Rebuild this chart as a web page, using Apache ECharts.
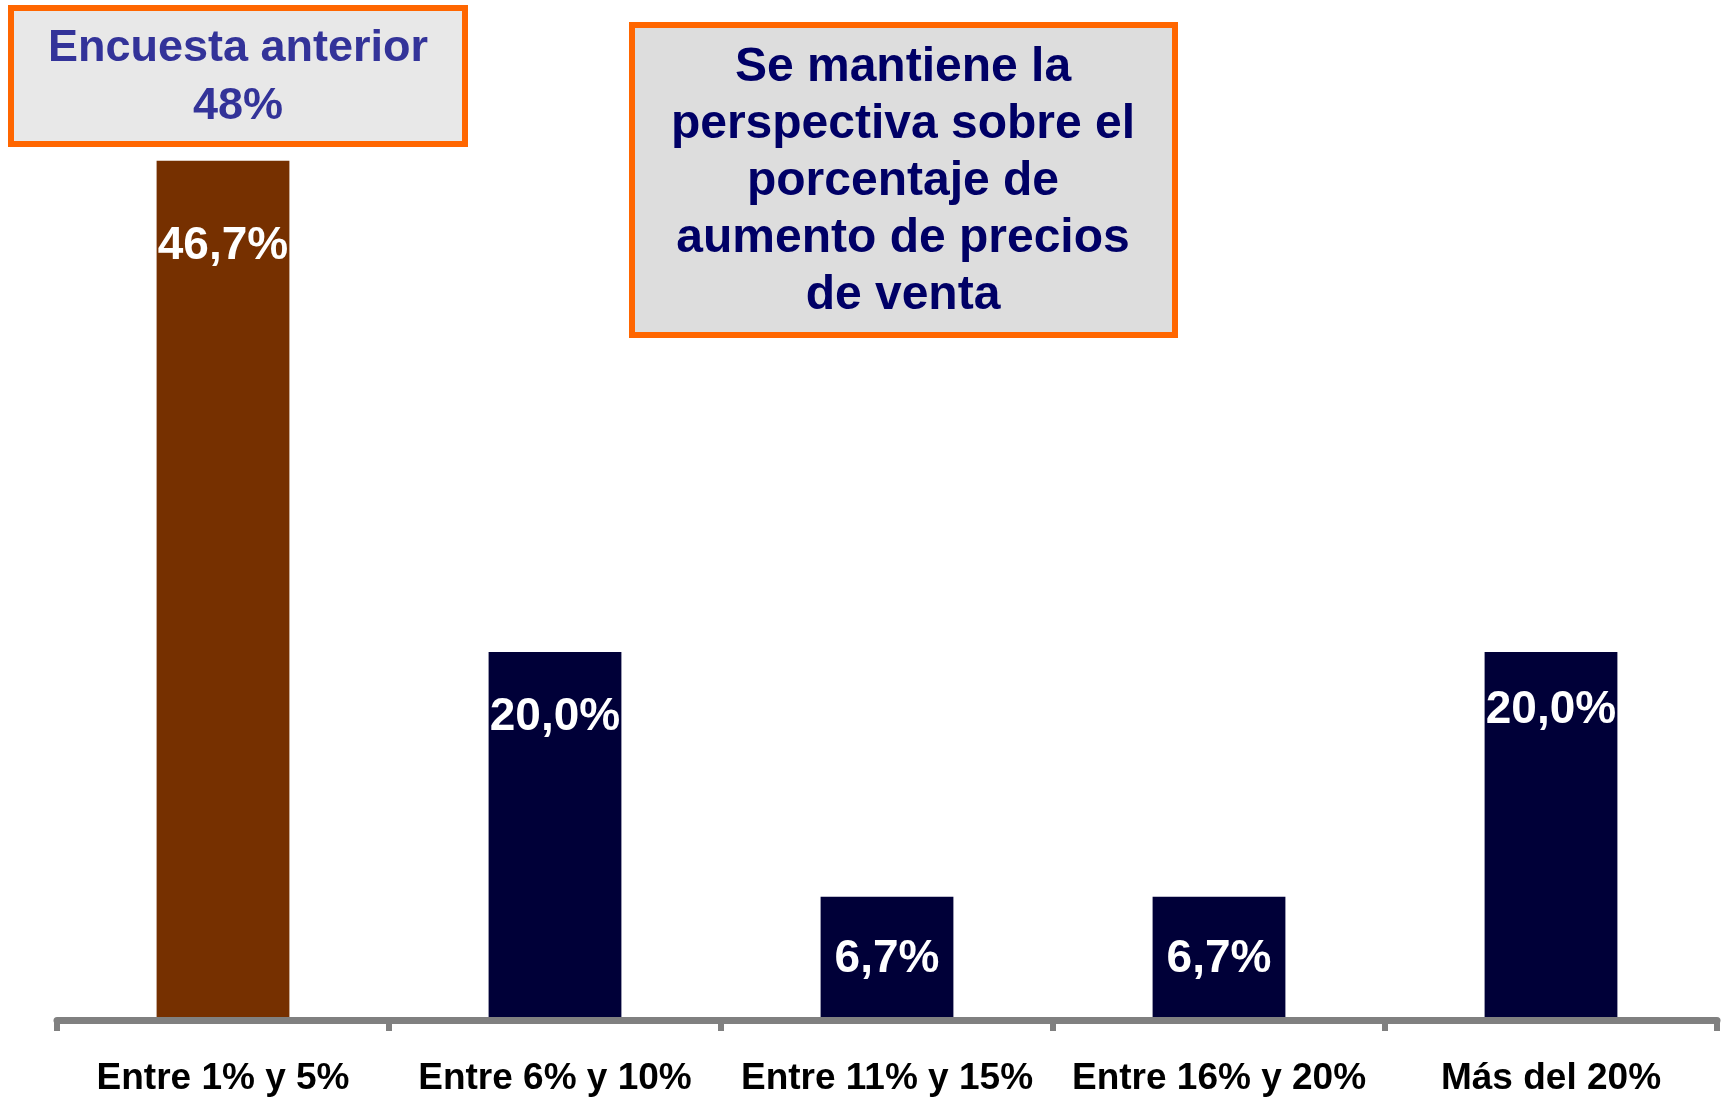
<!DOCTYPE html>
<html>
<head>
<meta charset="utf-8">
<script src="https://cdn.jsdelivr.net/npm/echarts@6/dist/echarts.min.js"></script>
<style>
html,body{margin:0;padding:0;background:#fff;}
#c{width:1721px;height:1097px;}
</style>
</head>
<body>
<div id="c"></div>
<script>
const categories = ['Entre 1% y 5%', 'Entre 6% y 10%', 'Entre 11% y 15%', 'Entre 16% y 20%', 'Más del 20%'];
const values = [46.7, 20.0, 6.7, 6.7, 20.0];
const valueLabels = ['46,7%', '20,0%', '6,7%', '6,7%', '20,0%'];
const barColors = ['#763000', '#000038', '#000038', '#000038', '#000038'];
const labelDistances = [63, 42, 40, 40, 35];
const previousTitle = 'Encuesta anterior';
const previousValue = '48%';
const noteLines = ['Se mantiene la', 'perspectiva sobre el', 'porcentaje de', 'aumento de precios', 'de venta'];

const chart = echarts.init(document.getElementById('c'));
const FONT = 'Liberation Sans, Arial, Helvetica, sans-serif';

const option = {
  backgroundColor: '#ffffff',
  animation: false,
  grid: { left: 57, right: 4, top: 100, bottom: 76 },
  xAxis: {
    type: 'category',
    data: categories,
    boundaryGap: true,
    z: 3,
    axisLine: { show: true, lineStyle: { color: '#808080', width: 7 } },
    axisTick: { show: true, length: 11, lineStyle: { color: '#808080', width: 6 } },
    axisLabel: {
      color: '#000000', fontFamily: FONT, fontWeight: 'bold', fontSize: 37,
      margin: 40, interval: 0
    }
  },
  yAxis: { type: 'value', min: 0, max: 50, show: false, splitLine: { show: false } },
  series: [{
    type: 'bar',
    barWidth: '40%',
    data: values.map((v, i) => ({
      value: v,
      itemStyle: { color: barColors[i] },
      label: { distance: labelDistances[i] }
    })),
    label: {
      show: true,
      position: 'insideTop',
      color: '#ffffff',
      fontFamily: FONT,
      fontWeight: 'bold',
      fontSize: 46,
      formatter: p => valueLabels[p.dataIndex]
    },
    z: 1
  }],
  graphic: [
    {
      type: 'rect', z: 10,
      shape: { x: 11, y: 8, width: 454, height: 136 },
      style: { fill: '#E8E8E8', stroke: '#FF6600', lineWidth: 6 }
    },
    {
      type: 'text', z: 11, x: 238, y: 78,
      style: {
        text: previousTitle + '\n' + previousValue,
        fill: '#333399', font: 'bold 45px ' + FONT,
        align: 'center', verticalAlign: 'middle', lineHeight: 58
      }
    },
    {
      type: 'rect', z: 10,
      shape: { x: 632, y: 25, width: 543, height: 310 },
      style: { fill: '#DDDDDD', stroke: '#FF6600', lineWidth: 6 }
    },
    {
      type: 'text', z: 11, x: 903, y: 182,
      style: {
        text: noteLines.join('\n'),
        fill: '#000066', font: 'bold 48px ' + FONT,
        align: 'center', verticalAlign: 'middle', lineHeight: 57
      }
    }
  ]
};
chart.setOption(option);
</script>
</body>
</html>
